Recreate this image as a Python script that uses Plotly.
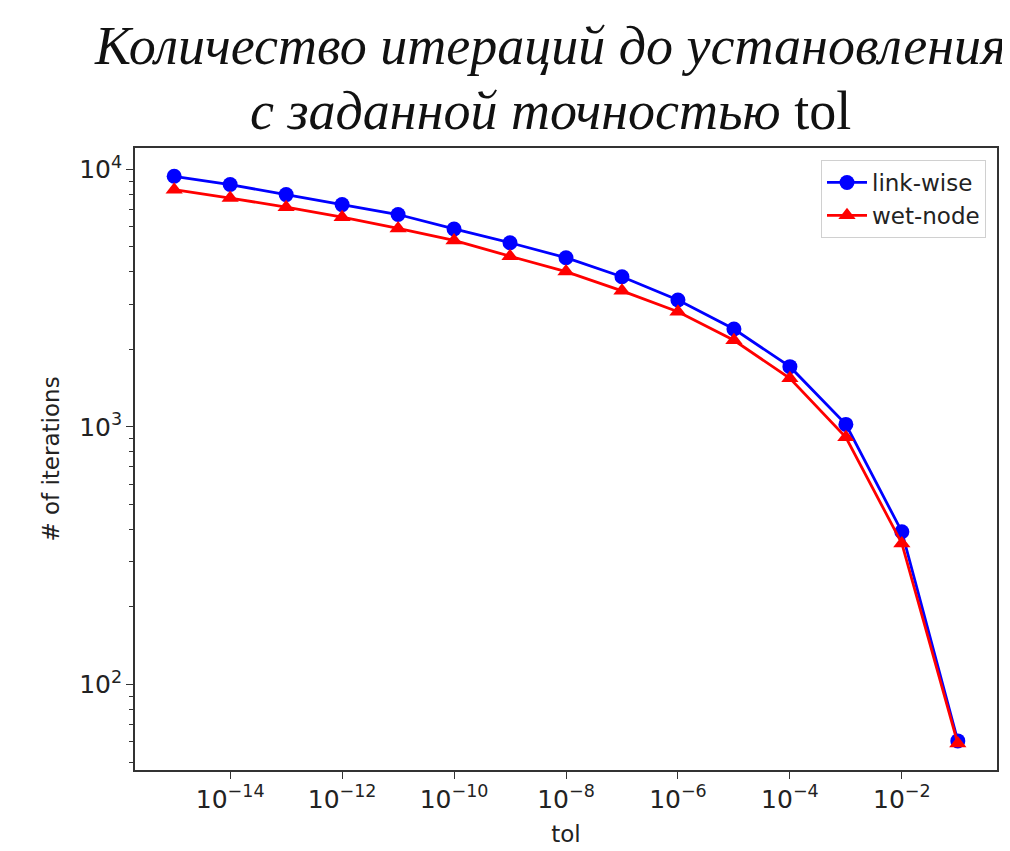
import plotly.graph_objects as go

# Data
tol = [1e-15, 1e-14, 1e-13, 1e-12, 1e-11, 1e-10, 1e-9, 1e-8, 1e-7, 1e-6, 1e-5, 1e-4, 1e-3, 1e-2, 1e-1]
link_wise = [9400, 8730, 7980, 7300, 6680, 5870, 5190, 4540, 3830, 3110, 2400, 1714, 1023, 392, 60.4]
wet_node = [8340, 7740, 7130, 6520, 5900, 5300, 4600, 4010, 3375, 2800, 2170, 1545, 912, 353, 59]

series_names = ["link-wise", "wet-node"]
title_line1 = "Количество итераций до установления"
title_line2 = "с заданной точностью"
title_sym = "tol"
x_title = "tol"
y_title = "# of iterations"

# page has an 8px body margin; figure sized so that the plot area lands where the reference has it
W, H = 1002, 843
ML, MR, MT, MB = 127, 13, 140, 81
PW, PH = W - ML - MR, H - MT - MB

TICK_FS = 20
LABEL_FS = 23
fig = go.Figure()
fig.add_trace(go.Scatter(
    x=tol, y=link_wise, name=series_names[0], mode="lines+markers",
    line=dict(color="#0000ff", width=2.8),
    marker=dict(symbol="circle", size=15, color="#0000ff"),
))
fig.add_trace(go.Scatter(
    x=tol, y=wet_node, name=series_names[1], mode="lines+markers",
    line=dict(color="#ff0000", width=2.8),
    marker=dict(symbol="triangle-up", size=15, color="#ff0000"),
))

tickfont = dict(family="DejaVu Sans", size=TICK_FS, color="#222")
axis_common = dict(
    type="log", showgrid=False, zeroline=False, automargin=False,
    showline=True, linecolor="#333", linewidth=1.8, mirror=True,
    ticks="outside", ticklen=7, tickwidth=1.3, tickcolor="#333",
    exponentformat="power", tickfont=tickfont,
)

fig.update_xaxes(
    **axis_common,
    range=[-15.7, -0.3], dtick=2, tick0=0,
    title=dict(text=x_title, font=dict(family="DejaVu Sans", size=LABEL_FS, color="#222"), standoff=13),
)
fig.update_yaxes(
    **axis_common,
    range=[1.668, 4.083], dtick=1,
    minor=dict(ticks="outside", ticklen=4, tickwidth=1.2, tickcolor="#333", dtick="D1", showgrid=False),
    title=dict(text=y_title, font=dict(family="DejaVu Sans", size=LABEL_FS, color="#222"), standoff=13),
)

def py(fig_y):
    return 1 + (MT - fig_y) / PH

title_font = dict(family="Liberation Serif", size=54, color="#111")
fig.update_layout(
    width=W, height=H,
    margin=dict(l=ML, r=MR, t=MT, b=MB),
    paper_bgcolor="white", plot_bgcolor="white",
    annotations=[
        dict(text=f"<i>{title_line1}</i>", xref="paper", yref="paper",
             x=(542 - ML) / PW, y=py(38), xanchor="center", yanchor="middle",
             showarrow=False, font=title_font),
        dict(text=f"<i>{title_line2}</i> {title_sym}", xref="paper", yref="paper",
             x=(542 - ML) / PW, y=py(103), xanchor="center", yanchor="middle",
             showarrow=False, font=title_font),
    ],
    legend=dict(
        x=(978 - ML) / PW, xanchor="right", y=py(152), yanchor="top",
        bordercolor="#d0d0d0", borderwidth=1, bgcolor="white",
        font=dict(family="DejaVu Sans", size=LABEL_FS, color="#222"),
        itemwidth=40,
    ),
    showlegend=True,
)

fig.write_html("out.html")
